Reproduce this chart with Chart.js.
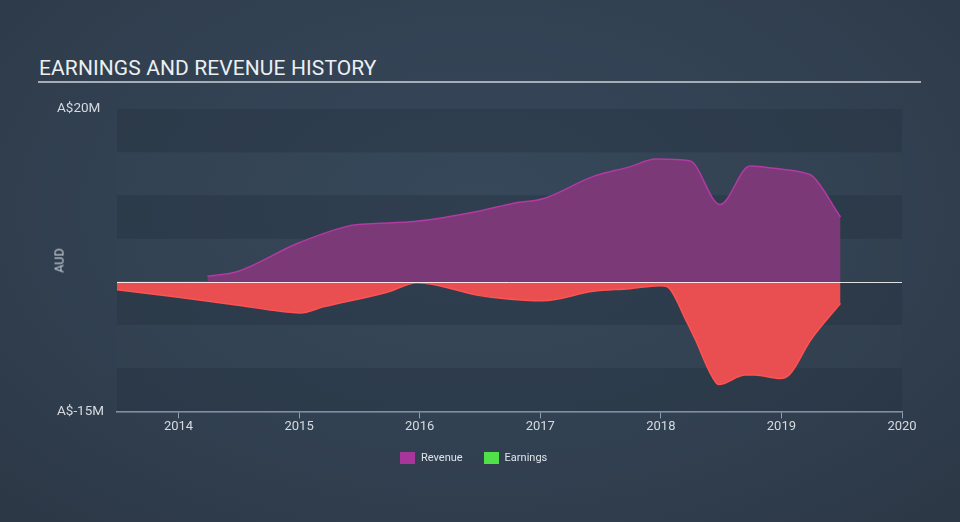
<!DOCTYPE html>
<html>
<head>
<meta charset="utf-8">
<script src="https://cdn.jsdelivr.net/npm/chart.js@4/dist/chart.umd.min.js"></script>
<style>
  html, body { margin:0; padding:0; }
  body {
    width:960px; height:522px; overflow:hidden; position:relative;
    background: radial-gradient(ellipse 70% 80% at 50% 40%, #36475a 0%, #324152 55%, #2c3846 100%);
    font-family: Roboto, "Open Sans", sans-serif;
  }
  #title { position:absolute; left:39px; top:56px; color:#eceff2; font-size:21px; letter-spacing:0.1px; }
  #rule { position:absolute; left:38px; top:81px; width:883px; height:2px; background:#a7adb5; }
  #aud { position:absolute; left:44px; top:253px; color:#c9d0d8; font-size:12.5px; transform:rotate(-90deg); transform-origin:center; width:30px; text-align:center; }
  #wrap { position:absolute; left:0; top:0; width:960px; height:522px; }
  #legend { position:absolute; top:451px; left:400px; font-size:11px; color:#dfe3e8; display:flex; align-items:center; }
  .sw { width:15px; height:12px; display:inline-block; margin-right:6px; }
  .item { display:flex; align-items:center; margin-right:21px; }
</style>
</head>
<body>
<div id="title">EARNINGS AND REVENUE HISTORY</div>
<div id="rule"></div>
<div id="wrap"><canvas id="c" width="960" height="522"></canvas></div>
<div id="aud">AUD</div>
<div id="legend">
  <div class="item"><span class="sw" style="background:#a8359a"></span>Revenue</div>
  <div class="item"><span class="sw" style="background:#4fe04a"></span>Earnings</div>
</div>
<script>
// ---- data (years as decimals, values in A$ millions) ----
const revenueDates  = [2014.24, 2014.49, 2014.98, 2015.42, 2015.56, 2015.97, 2016.50, 2016.78, 2017.03, 2017.44, 2017.74, 2017.96, 2018.24, 2018.49, 2018.74, 2018.85, 2019.02, 2019.16, 2019.26, 2019.49];
const revenueValues = [0.65, 1.2, 4.4, 6.5, 6.7, 7.0, 8.2, 9.1, 9.65, 12.2, 13.3, 14.2, 14.0, 8.95, 13.4, 13.3, 13.0, 12.7, 12.2, 7.5];
const earningsDates  = [2013.49, 2014.00, 2014.51, 2014.76, 2015.01, 2015.20, 2015.73, 2015.98, 2016.50, 2016.67, 2017.02, 2017.44, 2017.74, 2017.99, 2018.05, 2018.21, 2018.29, 2018.40, 2018.48, 2018.70, 2018.78, 2018.99, 2019.07, 2019.24, 2019.49];
const earningsValues = [-0.93, -1.8, -2.75, -3.26, -3.6, -2.9, -1.2, -0.1, -1.6, -1.9, -2.2, -1.1, -0.8, -0.45, -0.55, -4.5, -6.8, -10.3, -11.9, -10.8, -10.8, -11.2, -10.7, -6.8, -2.5];
const xTicks = [2014, 2015, 2016, 2017, 2018, 2019, 2020];
const yTicks = [-15, 20];
const bandEdges = [-15, -10, -5, 0, 5, 10, 15, 20];
const xMin = 2013.49, xMax = 2020;

const toPts = (xs, ys) => xs.map((x, i) => ({x, y: ys[i]}));

const bandsPlugin = {
  id: 'bands',
  beforeDatasetsDraw(chart) {
    const {ctx, chartArea, scales} = chart;
    ctx.save();
    for (let i = 0; i < bandEdges.length - 1; i++) {
      const yTop = scales.y.getPixelForValue(bandEdges[i + 1]);
      const yBot = scales.y.getPixelForValue(bandEdges[i]);
      const dark = (i % 2 === 0);
      ctx.fillStyle = dark ? 'rgba(34,46,60,0.32)' : 'rgba(70,90,110,0.04)';
      ctx.fillRect(chartArea.left, yTop, chartArea.right - chartArea.left, yBot - yTop);
    }
    ctx.restore();
  },
  afterDatasetsDraw(chart) {
    const {ctx, chartArea, scales} = chart;
    const y0 = Math.round(scales.y.getPixelForValue(0)) + 0.5;
    ctx.save();
    ctx.strokeStyle = 'rgba(255,255,255,0.85)';
    ctx.lineWidth = 1;
    ctx.beginPath();
    ctx.moveTo(chartArea.left, y0);
    ctx.lineTo(chartArea.right, y0);
    ctx.stroke();
    ctx.restore();
  }
};

new Chart(document.getElementById('c'), {
  type: 'line',
  data: {
    datasets: [
      {
        label: 'Revenue',
        data: toPts(revenueDates, revenueValues),
        borderColor: '#b23aa2',
        backgroundColor: '#7b3977',
        borderWidth: 1.5,
        fill: 'origin',
        pointRadius: 0,
        cubicInterpolationMode: 'monotone'
      },
      {
        label: 'Earnings',
        data: toPts(earningsDates, earningsValues),
        borderColor: '#ff5252',
        backgroundColor: '#e94f50',
        borderWidth: 1.5,
        fill: 'origin',
        pointRadius: 0,
        cubicInterpolationMode: 'monotone'
      }
    ]
  },
  options: {
    responsive: false,
    animation: false,
    layout: { padding: { left: 57, right: 58, top: 109, bottom: 86 } },
    plugins: { legend: { display: false }, tooltip: { enabled: false } },
    scales: {
      x: {
        type: 'linear', min: xMin, max: xMax,
        afterBuildTicks(scale) { scale.ticks = xTicks.map(v => ({value: v})); },
        ticks: { color: '#d5dae0', font: { family: 'Roboto', size: 13 }, padding: 1, maxRotation: 0,
                 callback: v => String(v) },
        grid: { drawOnChartArea: false, drawTicks: true, tickLength: 7, color: '#8e9db0' },
        border: { color: '#8e9db0', width: 1.5 }
      },
      y: {
        min: -15, max: 20,
        afterBuildTicks(scale) { scale.ticks = yTicks.map(v => ({value: v})); },
        afterFit(scale) { scale.width = 60; },
        ticks: { color: '#d5dae0', font: { family: 'Roboto', size: 13.5 }, crossAlign: 'far', padding: 0,
                 callback: v => 'A$' + v + 'M' },
        grid: { display: false },
        border: { display: false }
      }
    }
  },
  plugins: [bandsPlugin]
});
</script>
</body>
</html>
